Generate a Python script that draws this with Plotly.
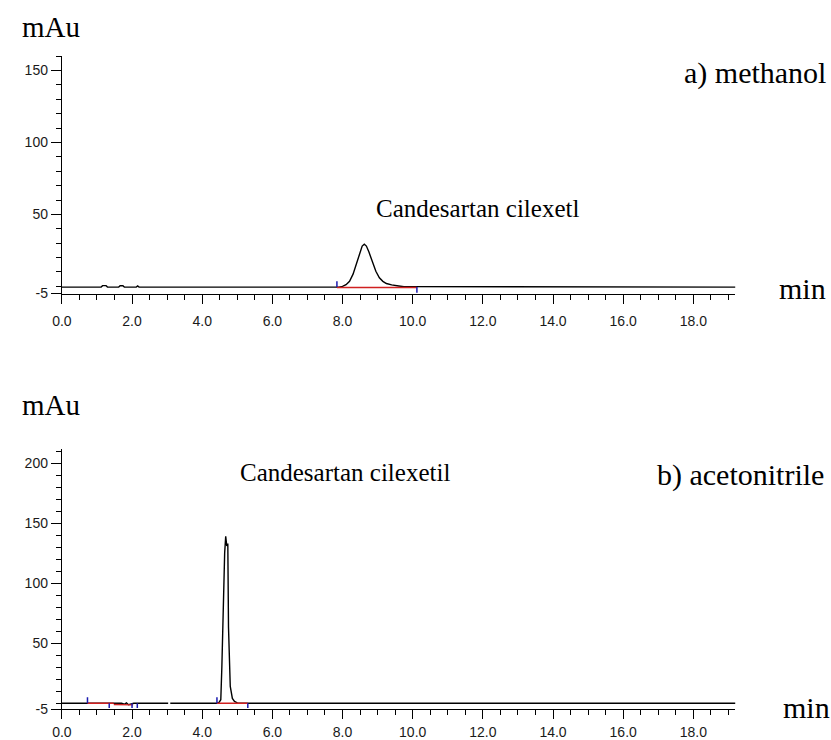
import plotly.graph_objects as go

W, H = 831, 740

# ---------------- data ----------------
# a) methanol
a_time = [0.0, 1.12, 1.16, 1.26, 1.30, 1.62, 1.66, 1.74, 1.78, 2.12, 2.16, 2.20,
          7.90, 8.00, 8.10, 8.20, 8.30, 8.40, 8.50, 8.56, 8.62, 8.68, 8.75, 8.85,
          8.95, 9.05, 9.15, 9.25, 9.40, 9.60, 9.75, 19.2]
a_mau = [-0.5, -0.5, 0.5, 0.5, -0.5, -0.5, 0.4, 0.4, -0.5, -0.5, 0.3, -0.5,
         -0.5, 0.0, 1.2, 3.5, 8.5, 15.5, 24.0, 28.0, 29.3, 28.0, 24.0, 17.0,
         10.5, 6.0, 3.5, 2.0, 1.0, 0.3, -0.2, -0.5]
a_base_time = [7.84, 10.12]
a_base_mau = [-0.8, -0.8]
a_mark_time = [7.84, 10.12]
a_mark_top = [3.5, -0.5]
a_mark_bot = [-0.5, -4.5]

# b) acetonitrile
b_time = [0.0, 1.70, 1.78, 1.84, 1.90, 1.96, 2.05, 3.03, None, 3.09,
          4.40, 4.48, 4.53, 4.56, 4.60, 4.64, 4.67, 4.70, 4.73, 4.75, 4.80,
          4.86, 4.92, 5.00, 5.10, 19.2]
b_mau = [0.0, 0.0, -0.8, 0.4, -1.2, -0.5, 0.0, 0.0, None, 0.0,
         0.0, 0.8, 3.0, 30.0, 83.0, 125.0, 139.0, 131.0, 133.0, 63.0, 14.0,
         4.0, 1.5, 0.3, 0.0, 0.0]
b_base_time = [0.73, 1.48, None, 1.48, 2.03, None, 4.42, 5.30]
b_base_mau = [0.0, 0.0, None, -1.0, -1.3, None, 0.0, 0.0]
b_mark_time = [0.73, 1.35, 2.00, 2.15, 4.42, 5.30]
b_mark_top = [5.0, 0.0, 0.0, 0.0, 5.0, 0.0]
b_mark_bot = [0.0, -4.0, -4.0, -4.0, 0.0, -4.0]

x_major = [0, 2, 4, 6, 8, 10, 12, 14, 16, 18]
x_major_text = ["0.0", "2.0", "4.0", "6.0", "8.0", "10.0", "12.0", "14.0", "16.0", "18.0"]
x_minor = [i * 0.5 for i in range(0, 39)]
a_y_major = [-5, 50, 100, 150]
a_y_major_text = ["-5", "50", "100", "150"]
a_y_minor = list(range(0, 161, 10))
b_y_major = [-5, 50, 100, 150, 200]
b_y_major_text = ["-5", "50", "100", "150", "200"]
b_y_minor = list(range(0, 211, 10))


def segs(ts, tops, bots):
    xs, ys = [], []
    for t, a, b in zip(ts, tops, bots):
        xs += [t, t, None]
        ys += [b, a, None]
    return xs, ys


fig = go.Figure()

# panel a
fig.add_trace(go.Scatter(x=a_time, y=a_mau, mode="lines",
                         line=dict(color="black", width=1.4), xaxis="x", yaxis="y"))
fig.add_trace(go.Scatter(x=a_base_time, y=a_base_mau, mode="lines",
                         line=dict(color="#d02020", width=1.4), xaxis="x", yaxis="y"))
mx, my = segs(a_mark_time, a_mark_top, a_mark_bot)
fig.add_trace(go.Scatter(x=mx, y=my, mode="lines",
                         line=dict(color="#1a1ab0", width=1.5), xaxis="x", yaxis="y"))

# panel b
fig.add_trace(go.Scatter(x=b_time, y=b_mau, mode="lines", connectgaps=False,
                         line=dict(color="black", width=1.4), xaxis="x2", yaxis="y2"))
fig.add_trace(go.Scatter(x=b_base_time, y=b_base_mau, mode="lines",
                         line=dict(color="#d02020", width=1.4), xaxis="x2", yaxis="y2"))
mx, my = segs(b_mark_time, b_mark_top, b_mark_bot)
fig.add_trace(go.Scatter(x=mx, y=my, mode="lines",
                         line=dict(color="#1a1ab0", width=1.5), xaxis="x2", yaxis="y2"))

tickfont = dict(family="Liberation Sans, Arial, sans-serif", size=14, color="#1a1a1a")
xdom = [52.5 / W, 734.3 / W]


def xaxis_cfg(anchor, standoff):
    return dict(domain=xdom, range=[0, 19.2], anchor=anchor,
                showline=True, linecolor="black", linewidth=1.2,
                showgrid=False, zeroline=False,
                tickmode="array", tickvals=x_major, ticktext=x_major_text,
                ticks="outside", ticklen=9, tickwidth=1.2, tickcolor="black",
                ticklabelstandoff=standoff,
                minor=dict(tickmode="array", tickvals=x_minor, ticks="outside",
                           ticklen=5, tickwidth=1.2, tickcolor="black", showgrid=False),
                tickfont=tickfont, fixedrange=True)


def yaxis_cfg(anchor, dom, rng, tv, tt, mv):
    return dict(domain=dom, range=rng, anchor=anchor,
                showline=True, linecolor="black", linewidth=1.2,
                showgrid=False, zeroline=False,
                tickmode="array", tickvals=tv, ticktext=tt,
                ticks="outside", ticklen=10, tickwidth=1.2, tickcolor="black",
                ticklabelstandoff=0,
                minor=dict(tickmode="array", tickvals=mv, ticks="outside",
                           ticklen=5, tickwidth=1.2, tickcolor="black", showgrid=False),
                tickfont=tickfont, fixedrange=True)


serif = "Liberation Serif, Times New Roman, serif"


def ann(text, xpx, ypx, size, xanchor="left"):
    return dict(text=text, xref="paper", yref="paper", x=xpx / W, y=1 - ypx / H,
                xanchor=xanchor, yanchor="middle", showarrow=False,
                font=dict(family=serif, size=size, color="black"))


fig.update_layout(
    width=W, height=H, margin=dict(l=0, r=0, t=0, b=0),
    paper_bgcolor="white", plot_bgcolor="white", showlegend=False,
    xaxis=xaxis_cfg("y", 6),
    yaxis=yaxis_cfg("x", [1 - 298 / H, 1 - 57 / H], [-5, 160],
                    a_y_major, a_y_major_text, a_y_minor),
    xaxis2=xaxis_cfg("y2", 1),
    yaxis2=yaxis_cfg("x2", [1 - 720 / H, 1 - 456 / H], [-5, 211.5],
                     b_y_major, b_y_major_text, b_y_minor),
    annotations=[
        ann("mAu", 10, 27, 29),
        ann("a) methanol", 828, 74, 30, "right"),
        ann("Candesartan cilexetl", 368, 212, 25),
        ann("min", 776, 293, 30),
        ann("mAu", 10, 411, 29),
        ann("Candesartan cilexetil", 231, 480, 25),
        ann("b) acetonitrile", 653, 482, 30),
        ann("min", 780, 718, 30),
    ],
)

fig.write_html("out.html")
